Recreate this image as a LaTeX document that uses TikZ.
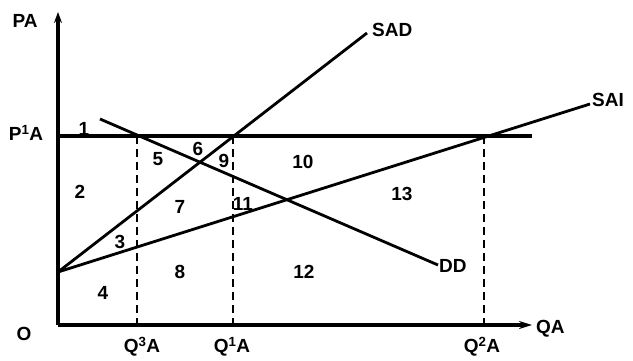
\documentclass[tikz,border=0pt]{standalone}
\usepackage{fontspec}
\setmainfont{Liberation Sans}
\usetikzlibrary{arrows.meta}
\begin{document}
\begin{tikzpicture}[x=1pt,y=-1pt,
  lbl/.style={font=\fontsize{19}{22}\selectfont\bfseries, inner sep=1pt},
  num/.style={font=\fontsize{19}{22}\selectfont\bfseries, inner sep=1pt},
  axis/.style={line width=3.2pt},
  curve/.style={line width=2.8pt},
  guide/.style={line width=2pt, dash pattern=on 8pt off 5pt}]
\useasboundingbox (0,0) rectangle (633,360);
% key points
\coordinate (O) at (58,325);
\coordinate (ytop) at (58,12);
\coordinate (xend) at (532,325);
\coordinate (pl) at (58,136);
\coordinate (pr) at (532,136);
\coordinate (s0) at (58,272);
\coordinate (sadE) at (367,33);
\coordinate (saiE) at (590,104);
\coordinate (ddS) at (100,119);
\coordinate (ddE) at (438,265);
\coordinate (q3t) at (137,136);
\coordinate (q3b) at (137,325);
\coordinate (q1t) at (233,136);
\coordinate (q1b) at (233,325);
\coordinate (q2t) at (484,136);
\coordinate (q2b) at (484,325);
% axes
\draw[axis, -{Stealth[length=11pt,width=8pt]}] (O) -- (ytop);
\draw[axis, -{Stealth[length=13pt,width=8pt]}] (O) -- (xend);
\draw[axis] (pl) -- (pr);
% curves
\draw[curve] (s0) -- (sadE);
\draw[curve] (s0) -- (saiE);
\draw[curve] (ddS) -- (ddE);
% guides
\draw[guide] (q3t) -- (q3b);
\draw[guide] (q1t) -- (q1b);
\draw[guide] (q2t) -- (q2b);
% axis labels
\node[lbl] (pa) at (25,21) {PA};
\node[lbl] (p1a) at (26,133) {P\textsuperscript{1}A};
\node[lbl] (o) at (24,334) {O};
\node[lbl, anchor=west] (qa) at (535,329) {QA};
\node[lbl] (q3a) at (142,347) {Q\textsuperscript{3}A};
\node[lbl] (q1a) at (232,347) {Q\textsuperscript{1}A};
\node[lbl] (q2a) at (482,347) {Q\textsuperscript{2}A};
\node[lbl, anchor=west] (sad) at (371,30) {SAD};
\node[lbl, anchor=west] (sai) at (591,100) {SAI};
\node[lbl, anchor=west] (dd) at (438,266) {DD};
% region numbers
\node[num] (n1) at (84,129) {1};
\node[num] (n2) at (80,192) {2};
\node[num] (n3) at (120,242) {3};
\node[num] (n4) at (103,293) {4};
\node[num] (n5) at (158,159) {5};
\node[num] (n6) at (198,149) {6};
\node[num] (n7) at (180,207) {7};
\node[num] (n8) at (180,272) {8};
\node[num] (n9) at (224,161) {9};
\node[num] (n10) at (303,162) {10};
\node[num] (n11) at (243,204) {11};
\node[num] (n12) at (304,272) {12};
\node[num] (n13) at (402,194) {13};
\end{tikzpicture}
\end{document}
